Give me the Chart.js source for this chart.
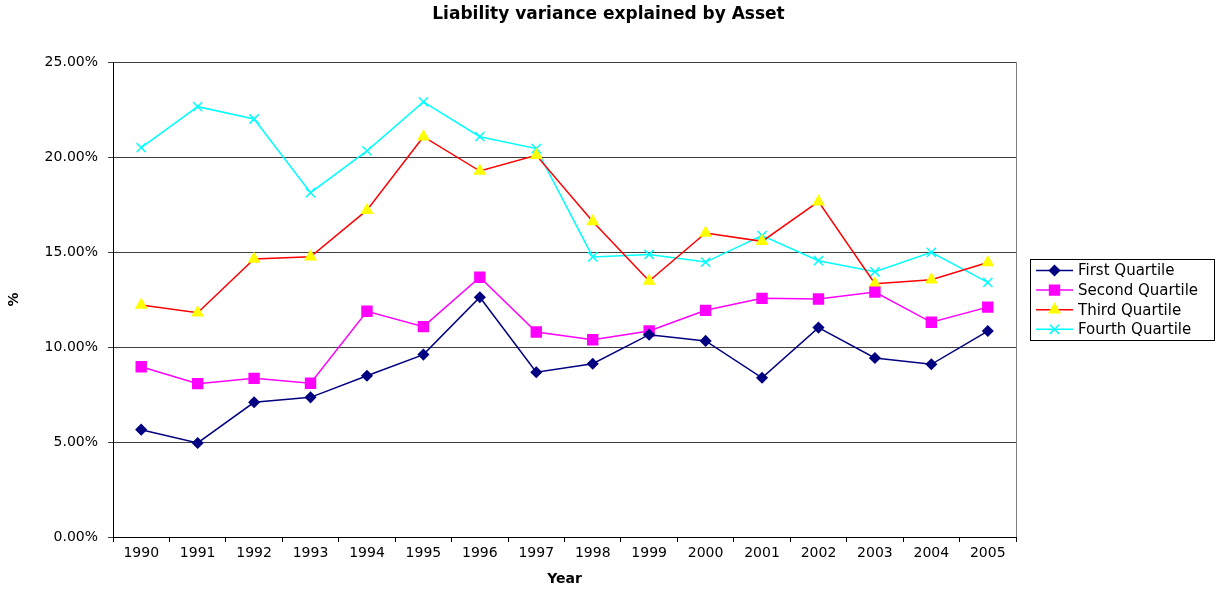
<!DOCTYPE html>
<html>
<head>
<meta charset="utf-8">
<script src="https://cdn.jsdelivr.net/npm/chart.js@4/dist/chart.umd.min.js"></script>
<style>
  html, body { margin: 0; padding: 0; background: #fff; }
  #chart { display: block; }
</style>
</head>
<body>
<canvas id="chart" width="1217" height="592"></canvas>
<script>
const years = ["1990", "1991", "1992", "1993", "1994", "1995", "1996", "1997",
  "1998", "1999", "2000", "2001", "2002", "2003", "2004", "2005"];

const firstQuartile = [5.65, 4.95, 7.09, 7.35, 8.49, 9.6, 12.62, 8.67,
  9.12, 10.65, 10.32, 8.38, 11.02, 9.42, 9.09, 10.84];
const secondQuartile = [8.96, 8.07, 8.35, 8.09, 11.88, 11.07, 13.67, 10.79,
  10.38, 10.84, 11.93, 12.56, 12.53, 12.89, 11.3, 12.1];
const thirdQuartile = [12.21, 11.8, 14.63, 14.75, 17.2, 21.07, 19.26, 20.09,
  16.61, 13.47, 16.0, 15.56, 17.65, 13.33, 13.54, 14.45];
const fourthQuartile = [20.49, 22.65, 22.0, 18.12, 20.32, 22.9, 21.07, 20.44,
  14.74, 14.87, 14.47, 15.86, 14.54, 13.96, 14.98, 13.4];

const seriesNames = ["First Quartile", "Second Quartile", "Third Quartile", "Fourth Quartile"];
const yTicks = [0, 5, 10, 15, 20, 25];

const FONT = "'DejaVu Sans', Arial, sans-serif";

// grey line on the right side of the plot area
const plotFrame = {
  id: "plotFrame",
  afterDraw(chart) {
    const { ctx, chartArea } = chart;
    ctx.save();
    ctx.strokeStyle = "#808080";
    ctx.lineWidth = 1;
    ctx.beginPath();
    ctx.moveTo(chartArea.right + 0.5, chartArea.top);
    ctx.lineTo(chartArea.right + 0.5, chartArea.bottom);
    ctx.stroke();
    ctx.restore();
  }
};

// excel style legend: box with line + marker samples
const boxLegend = {
  id: "boxLegend",
  afterDraw(chart) {
    const { ctx } = chart;
    const x = 1030, y = 259, w = 184, h = 81, rowH = 19.6;
    ctx.save();
    ctx.fillStyle = "#fff";
    ctx.fillRect(x, y, w, h);
    ctx.strokeStyle = "#000";
    ctx.lineWidth = 1;
    ctx.strokeRect(x + 0.5, y + 0.5, w, h);
    ctx.font = "15px " + FONT;
    ctx.textBaseline = "middle";
    chart.data.datasets.forEach((ds, i) => {
      const cy = y + 11.5 + i * rowH;
      ctx.strokeStyle = ds.borderColor;
      ctx.lineWidth = 1.5;
      ctx.beginPath();
      ctx.moveTo(x + 6, cy);
      ctx.lineTo(x + 43, cy);
      ctx.stroke();
      ctx.fillStyle = ds.pointBackgroundColor;
      ctx.strokeStyle = ds.pointBorderColor;
      ctx.lineWidth = 1.5;
      Chart.helpers.drawPoint(ctx, {
        pointStyle: ds.pointStyle,
        radius: ds.pointRadius,
        borderWidth: 1.5,
        rotation: 0
      }, x + 24.5, cy);
      ctx.fillStyle = "#000";
      ctx.fillText(ds.label, x + 48, cy + 1);
    });
    ctx.restore();
  }
};

new Chart(document.getElementById("chart"), {
  type: "line",
  data: {
    labels: years,
    datasets: [
      {
        label: seriesNames[0],
        data: firstQuartile,
        borderColor: "#000080",
        pointBackgroundColor: "#000080",
        pointBorderColor: "#000080",
        pointStyle: "rectRot",
        pointRadius: 5
      },
      {
        label: seriesNames[1],
        data: secondQuartile,
        borderColor: "#FF00FF",
        pointBackgroundColor: "#FF00FF",
        pointBorderColor: "#FF00FF",
        pointStyle: "rect",
        pointRadius: 7
      },
      {
        label: seriesNames[2],
        data: thirdQuartile,
        borderColor: "#FF0000",
        pointBackgroundColor: "#FFFF00",
        pointBorderColor: "#FFFF00",
        pointStyle: "triangle",
        pointRadius: 6
      },
      {
        label: seriesNames[3],
        data: fourthQuartile,
        borderColor: "#00FFFF",
        pointBackgroundColor: "#00FFFF",
        pointBorderColor: "#00FFFF",
        pointStyle: "crossRot",
        pointRadius: 6.5
      }
    ].map(d => Object.assign({ borderWidth: 1.5, pointBorderWidth: 1.5, tension: 0, fill: false, yAxisID: "y" }, d))
  },
  options: {
    responsive: false,
    animation: false,
    layout: { padding: 0 },
    plugins: {
      legend: { display: false },
      tooltip: { enabled: false },
      title: {
        display: true,
        text: "Liability variance explained by Asset",
        color: "#000",
        font: { family: FONT, size: 17, weight: "bold", lineHeight: 1.2 },
        padding: { top: 4, bottom: 37.6 }
      }
    },
    scales: {
      x: {
        offset: true,
        afterFit(scale) { scale.height = 55; },
        grid: {
          offset: true,
          drawOnChartArea: false,
          drawTicks: true,
          tickLength: 5,
          color: "#000"
        },
        border: { display: true, color: "#000", width: 1 },
        ticks: { color: "#000", font: { family: FONT, size: 14 }, padding: 3, maxRotation: 0, autoSkip: false },
        title: {
          display: true,
          text: "Year",
          color: "#000",
          font: { family: FONT, size: 14, weight: "bold" },
          padding: { top: 4, bottom: 4 }
        }
      },
      y: {
        min: yTicks[0],
        max: yTicks[yTicks.length - 1],
        afterFit(scale) { scale.width = 113; },
        afterBuildTicks(scale) { scale.ticks = yTicks.map(v => ({ value: v })); },
        grid: {
          color: "#404040",
          drawTicks: true,
          tickLength: 5
        },
        border: { display: true, color: "#000", width: 1 },
        ticks: {
          color: "#000",
          font: { family: FONT, size: 14 },
          padding: 10,
          callback: v => v.toFixed(2) + "%"
        },
        title: {
          display: true,
          text: "%",
          color: "#000",
          font: { family: FONT, size: 14, weight: "bold" },
          padding: { top: 6, bottom: 4 }
        }
      },
      // empty axis that keeps room for the legend on the right
      yRight: {
        type: "linear",
        position: "right",
        afterFit(scale) { scale.width = 201; },
        grid: { display: false },
        border: { display: false },
        ticks: { display: false }
      }
    }
  },
  plugins: [plotFrame, boxLegend]
});
</script>
</body>
</html>
